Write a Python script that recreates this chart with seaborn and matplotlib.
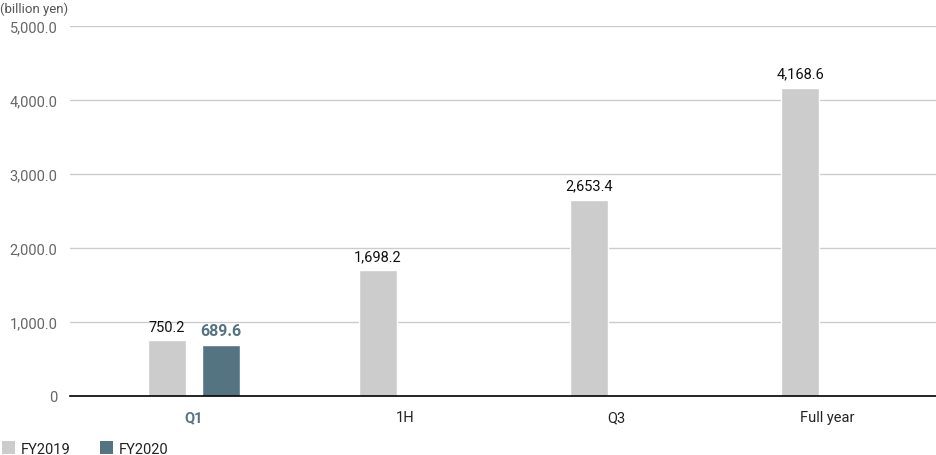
import pandas as pd
import matplotlib.pyplot as plt
import seaborn as sns
from matplotlib.patches import Patch

# chart data
periods = ['Q1', '1H', 'Q3', 'Full year']
fy2019 = [750.2, 1698.2, 2653.4, 4168.6]
fy2020 = [689.6, None, None, None]
series = ['FY2019', 'FY2020']
colors = ['#cccccc', '#557482']

df = pd.DataFrame({
    'period': periods * 2,
    'series': ['FY2019'] * 4 + ['FY2020'] * 4,
    'value': fy2019 + fy2020,
})

sns.set_style('white')
plt.rcParams['font.family'] = ['Roboto', 'DejaVu Sans']

fig = plt.figure(figsize=(9.36, 4.56), dpi=100)
ax = fig.add_axes([70 / 936, 59 / 456, 866 / 936, 370 / 456])

sns.barplot(data=df, x='period', y='value', hue='series', order=periods,
            hue_order=series, palette=colors, saturation=1, width=0.51,
            gap=0.3, legend=False, ax=ax, zorder=3)

ax.set_ylim(0, 5000)
ax.set_xlim(-0.588, 3.517)
ax.set_yticks([0, 1000, 2000, 3000, 4000, 5000])
ax.set_yticklabels(['0', '1,000.0', '2,000.0', '3,000.0', '4,000.0', '5,000.0'],
                   color='#666666', fontsize=10.5)
ax.yaxis.grid(True, color='#cccccc', linewidth=1, zorder=0)
ax.tick_params(axis='y', length=0, pad=9)
ax.tick_params(axis='x', length=0, pad=10)
for s in ['top', 'right', 'left']:
    ax.spines[s].set_visible(False)
ax.spines['bottom'].set_color('black')
ax.spines['bottom'].set_linewidth(1.2)
ax.spines['bottom'].set_zorder(4)
ax.set_xlabel('')
ax.set_ylabel('')

for lbl in ax.get_xticklabels():
    lbl.set_fontsize(10.5)
    if lbl.get_text() == 'Q1':
        lbl.set_color(colors[1])
        lbl.set_fontweight('bold')
    else:
        lbl.set_color('#222222')

# value labels
for cont, vals, col, wt in zip(ax.containers, [fy2019, fy2020],
                               ['#111111', colors[1]], ['normal', 'bold']):
    for bar, v in zip(cont, vals):
        if v is None:
            continue
        ax.annotate(f'{v:,.1f}', (bar.get_x() + bar.get_width() / 2, v),
                    xytext=(0, 5), textcoords='offset points', ha='center',
                    va='bottom', fontsize=11.5 if wt == 'bold' else 10.5,
                    color=col, fontweight=wt)

fig.text(0, 1 - 9 / 456, '(billion yen)', fontsize=9.5, color='#555555',
         va='center', ha='left')

handles = [Patch(facecolor=c, edgecolor='none') for c in colors]
fig.legend(handles, series, loc='lower left', bbox_to_anchor=(-0.012, -0.03),
           ncol=2, frameon=False, fontsize=10.5, handlelength=0.9,
           handleheight=0.9, handletextpad=0.4, columnspacing=2.0,
           labelcolor='#222222')

fig.savefig('out.png', dpi=100)
